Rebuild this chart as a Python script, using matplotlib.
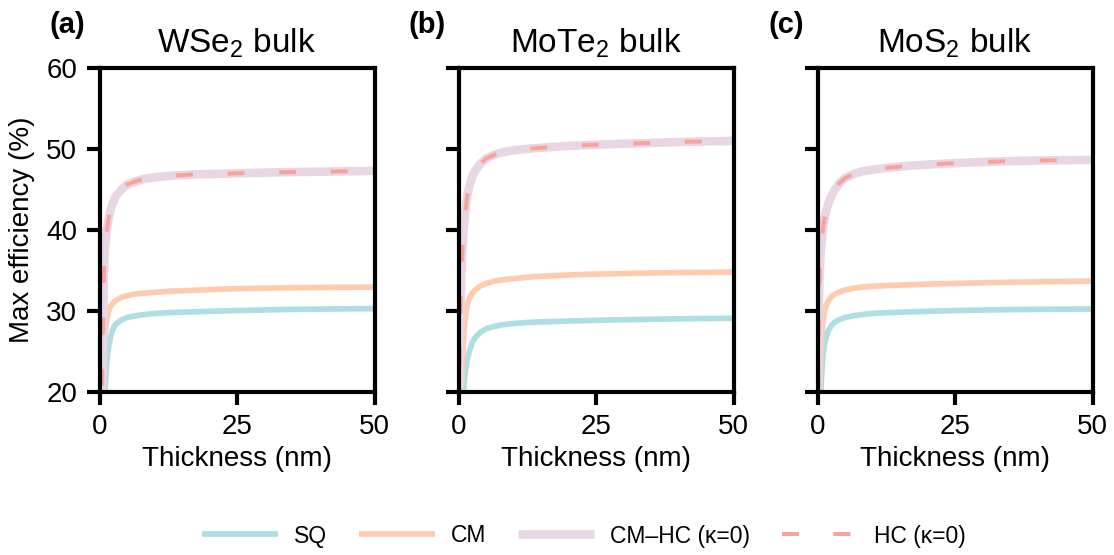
import matplotlib
matplotlib.use("Agg")
import matplotlib.pyplot as plt
import numpy as np

plt.rcParams['font.family'] = ['Liberation Sans', 'DejaVu Sans']
plt.rcParams['mathtext.fontset'] = 'custom'
plt.rcParams['mathtext.rm'] = 'Liberation Sans'
plt.rcParams['mathtext.it'] = 'Liberation Sans:italic'
plt.rcParams['mathtext.bf'] = 'Liberation Sans:bold'

# ---------------- data ----------------
thickness = [0.1, 0.2, 0.3, 0.4, 0.5, 0.6, 0.7, 0.8, 1.0, 1.3, 1.6, 2.0, 2.5, 3.0,
             4.0, 5.0, 6.5, 8.0, 10, 13, 17, 22, 28, 35, 42, 50]

titles = ["WSe$_2$ bulk", "MoTe$_2$ bulk", "MoS$_2$ bulk"]
panel_labels = ["(a)", "(b)", "(c)"]

sq_wse2 = [1, 2, 3, 4, 5, 9, 13, 16, 20.3, 23.5, 25.3, 26.8, 27.9, 28.4,
           28.9, 29.2, 29.4, 29.55, 29.7, 29.8, 29.9, 30.0, 30.1, 30.2, 30.25, 30.3]
cm_wse2 = [6, 8, 10, 12.5, 15, 19, 22, 24.5, 27.2, 28.9, 29.9, 30.6, 31.0, 31.3,
           31.7, 31.9, 32.1, 32.2, 32.3, 32.45, 32.55, 32.7, 32.8, 32.87, 32.92, 32.95]
cmhc_wse2 = [8, 11, 14, 17, 20.5, 26.0, 31.0, 34.8, 37.8, 39.8, 41.2, 42.5, 43.5, 44.2,
             45.0, 45.6, 46.0, 46.3, 46.5, 46.7, 46.85, 46.95, 47.05, 47.15, 47.22, 47.3]

sq_mote2 = [5, 7, 9, 11, 13, 15, 16.8, 18.5, 21.0, 22.8, 24.1, 25.1, 26.1, 26.7,
            27.4, 27.8, 28.1, 28.3, 28.45, 28.6, 28.7, 28.8, 28.9, 28.98, 29.05, 29.1]
cm_mote2 = [8, 12, 15, 17.5, 19.5, 21.5, 23.3, 24.8, 27.5, 29.5, 30.8, 31.6, 32.2, 32.6,
            33.1, 33.4, 33.7, 33.85, 34.0, 34.2, 34.35, 34.5, 34.6, 34.7, 34.75, 34.8]
cmhc_mote2 = [17, 21.5, 27.5, 31.5, 34.0, 35.8, 37.3, 38.6, 40.6, 42.6, 44.2, 45.5, 46.6, 47.3,
              48.2, 48.8, 49.3, 49.6, 49.85, 50.05, 50.25, 50.45, 50.6, 50.75, 50.9, 51.0]

sq_mos2 = [5, 8, 11, 14, 17, 19.5, 21.2, 22.6, 24.5, 25.9, 26.8, 27.6, 28.2, 28.55,
           28.95, 29.2, 29.4, 29.55, 29.7, 29.8, 29.9, 30.0, 30.1, 30.17, 30.22, 30.25]
cm_mos2 = [10, 14, 17, 19.5, 21.8, 23.8, 25.5, 27.0, 28.8, 30.0, 30.7, 31.3, 31.75, 32.0,
           32.35, 32.6, 32.8, 32.95, 33.05, 33.15, 33.25, 33.35, 33.45, 33.55, 33.62, 33.7]
cmhc_mos2 = [20.5, 27.5, 32.5, 34.8, 36.2, 37.3, 38.2, 38.9, 40.2, 41.5, 42.4, 43.3, 44.1, 44.8,
             45.8, 46.4, 46.9, 47.2, 47.45, 47.7, 47.95, 48.15, 48.35, 48.5, 48.6, 48.65]

# HC (kappa=0) coincides with CM-HC (kappa=0)
hc_wse2 = list(cmhc_wse2)
hc_mote2 = list(cmhc_mote2)
hc_mos2 = list(cmhc_mos2)

sq_all = [sq_wse2, sq_mote2, sq_mos2]
cm_all = [cm_wse2, cm_mote2, cm_mos2]
cmhc_all = [cmhc_wse2, cmhc_mote2, cmhc_mos2]
hc_all = [hc_wse2, hc_mote2, hc_mos2]

series_labels = ["SQ", "CM", "CM\u2013HC (\u03ba=0)", "HC (\u03ba=0)"]
x_ticks = [0, 25, 50]
y_ticks = [20, 30, 40, 50, 60]

# ---------------- style ----------------
c_sq = "#AEDDE3"
c_cm = "#FFCBAF"
c_cmhc = "#E9D6E4"
c_hc = "#F8A399"

W, H = 1114, 555
fig = plt.figure(figsize=(W / 100, H / 100), dpi=100)

lefts = [99.5, 458.5, 817.5]
ax_w = 275
ax_bottom_px = 392
ax_top_px = 68

axes = []
for i in range(3):
    ax = fig.add_axes([lefts[i] / W, 1 - ax_bottom_px / H, ax_w / W,
                       (ax_bottom_px - ax_top_px) / H])
    axes.append(ax)
    l1, = ax.plot(thickness, sq_all[i], color=c_sq, lw=4.1, solid_capstyle='butt', label=series_labels[0])
    l2, = ax.plot(thickness, cm_all[i], color=c_cm, lw=4.1, solid_capstyle='butt', label=series_labels[1])
    l3, = ax.plot(thickness, cmhc_all[i], color=c_cmhc, lw=6.2, solid_capstyle='butt', label=series_labels[2])
    l4, = ax.plot(thickness, hc_all[i], color=c_hc, lw=2.9, dashes=(4.2, 8.6),
                  dash_capstyle='butt', label=series_labels[3])
    ax.set_xlim(0, 50)
    ax.set_ylim(20, 60)
    ax.set_xticks(x_ticks)
    ax.set_yticks(y_ticks)
    for sp in ax.spines.values():
        sp.set_linewidth(3.0)
    ax.tick_params(direction='out', length=9.5, width=3.0, pad=6.5, labelsize=20)
    if i > 0:
        ax.set_yticklabels([])
    ax.set_xlabel("Thickness (nm)", fontsize=20, labelpad=4)
    ax.set_title(titles[i], fontsize=24, pad=11)
    ax.text(-49.5 / ax_w, (ax_bottom_px - 33) / (ax_bottom_px - ax_top_px), panel_labels[i],
            transform=ax.transAxes, fontsize=21, fontweight='bold', va='baseline', ha='left')
    handles = [l1, l2, l3, l4]

axes[0].set_ylabel("Max efficiency (%)", fontsize=20, labelpad=8)

leg = fig.legend(handles, series_labels, loc='center', bbox_to_anchor=(584 / W, 1 - 536 / H),
                 ncol=4, frameon=False, fontsize=16.5, handlelength=3.3, handletextpad=0.7,
                 columnspacing=1.4)

fig.savefig("out.png", dpi=100)
